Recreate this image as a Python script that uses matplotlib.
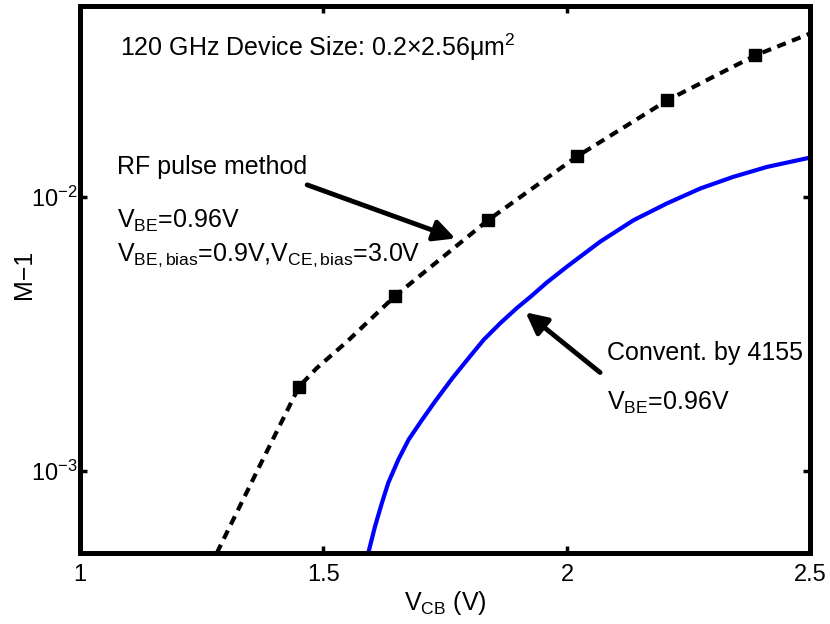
import matplotlib
matplotlib.use('Agg')
import matplotlib.pyplot as plt

# --- CONFIG ---
plt.rcParams.update({
    'font.family': ['Liberation Sans', 'DejaVu Sans'],
    'mathtext.fontset': 'custom',
    'mathtext.rm': 'Liberation Sans',
    'mathtext.it': 'Liberation Sans:italic',
    'mathtext.bf': 'Liberation Sans:bold',
})

# RF pulse method: curve and measured points
rf_vcb = [1.281, 1.370, 1.450, 1.486, 1.548, 1.647, 1.838, 2.021, 2.206, 2.387, 2.500]
rf_m1 = [5.0e-4, 1.05e-3, 2.03e-3, 2.37e-3, 2.96e-3, 4.35e-3, 8.24e-3,
         0.0141, 0.0226, 0.0330, 0.0397]
rf_pts_vcb = [1.450, 1.647, 1.838, 2.021, 2.206, 2.387]
rf_pts_m1 = [2.03e-3, 4.35e-3, 8.24e-3, 0.0141, 0.0226, 0.0330]

# Conventional measurement by 4155
conv_vcb = [1.592, 1.606, 1.620, 1.633, 1.654, 1.675, 1.702, 1.729, 1.764, 1.795,
            1.829, 1.863, 1.897, 1.925, 1.959, 2.000, 2.068, 2.137, 2.205, 2.274,
            2.342, 2.411, 2.500]
conv_m1 = [5.0e-4, 6.27e-4, 7.62e-4, 9.02e-4, 1.10e-3, 1.30e-3, 1.53e-3, 1.79e-3,
           2.17e-3, 2.54e-3, 3.01e-3, 3.46e-3, 3.93e-3, 4.32e-3, 4.88e-3, 5.57e-3,
           6.87e-3, 8.24e-3, 9.48e-3, 0.01076, 0.01187, 0.0129, 0.01396]

x_ticks = [1, 1.5, 2, 2.5]
x_ticklabels = ['1', '1.5', '2', '2.5']
y_ticks = [1e-3, 1e-2]
y_ticklabels = [r'$10^{-3}$', r'$10^{-2}$']

fig = plt.figure(figsize=(8.3, 6.24), dpi=100)
ax = fig.add_axes([0.0964, 0.1138, 0.880, 0.8766])

ax.plot(rf_vcb, rf_m1, color='k', linewidth=3, dashes=(2.2, 1.6))
ax.plot(rf_pts_vcb, rf_pts_m1, linestyle='none', marker='s', markersize=8.5, color='k')
ax.plot(conv_vcb, conv_m1, color='#0000FF', linewidth=3, solid_capstyle='butt',
        solid_joinstyle='round')

ax.set_yscale('log')
ax.set_xlim(1, 2.5)
ax.set_ylim(5e-4, 0.05)
ax.set_xticks(x_ticks)
ax.set_xticklabels(x_ticklabels)
ax.set_yticks(y_ticks)
ax.set_yticklabels(y_ticklabels)
ax.minorticks_off()
ax.tick_params(direction='in', length=5, width=2.5, top=True, right=True,
               labelsize=17)
ax.tick_params(axis='x', pad=8)
ax.tick_params(axis='y', pad=2)
for s in ax.spines.values():
    s.set_linewidth(3.6)

ax.set_xlabel(r'V$_{\mathrm{CB}}$ (V)', fontsize=18, labelpad=2)
ax.set_ylabel('M\u22121', fontsize=18)
ax.yaxis.set_label_coords(-0.06, 0.509)

# --- ANNOTATIONS ---
txt = dict(transform=ax.transAxes, fontsize=18, va='baseline', ha='left')
ax.text(0.055, 0.909, '120 GHz Device Size: 0.2\u00d72.56\u03bcm$^{2}$', **txt)
ax.text(0.051, 0.693, 'RF pulse method', **txt)
ax.text(0.051, 0.595, r'V$_{\mathrm{BE}}$=0.96V', **txt)
ax.text(0.051, 0.535, r'V$_{\mathrm{BE,bias}}$=0.9V,V$_{\mathrm{CE,bias}}$=3.0V', **txt)
ax.text(0.722, 0.352, 'Convent. by 4155', **txt)
ax.text(0.722, 0.261, r'V$_{\mathrm{BE}}$=0.96V', **txt)

arrow = dict(arrowstyle='-|>', color='k', lw=3.5, mutation_scale=32,
             shrinkA=0, shrinkB=0)
ax.annotate('', xy=(0.514, 0.575), xytext=(0.311, 0.673),
            xycoords='axes fraction', textcoords='axes fraction', arrowprops=arrow)
ax.annotate('', xy=(0.610, 0.440), xytext=(0.712, 0.330),
            xycoords='axes fraction', textcoords='axes fraction', arrowprops=arrow)

fig.savefig('out.png', dpi=100)
